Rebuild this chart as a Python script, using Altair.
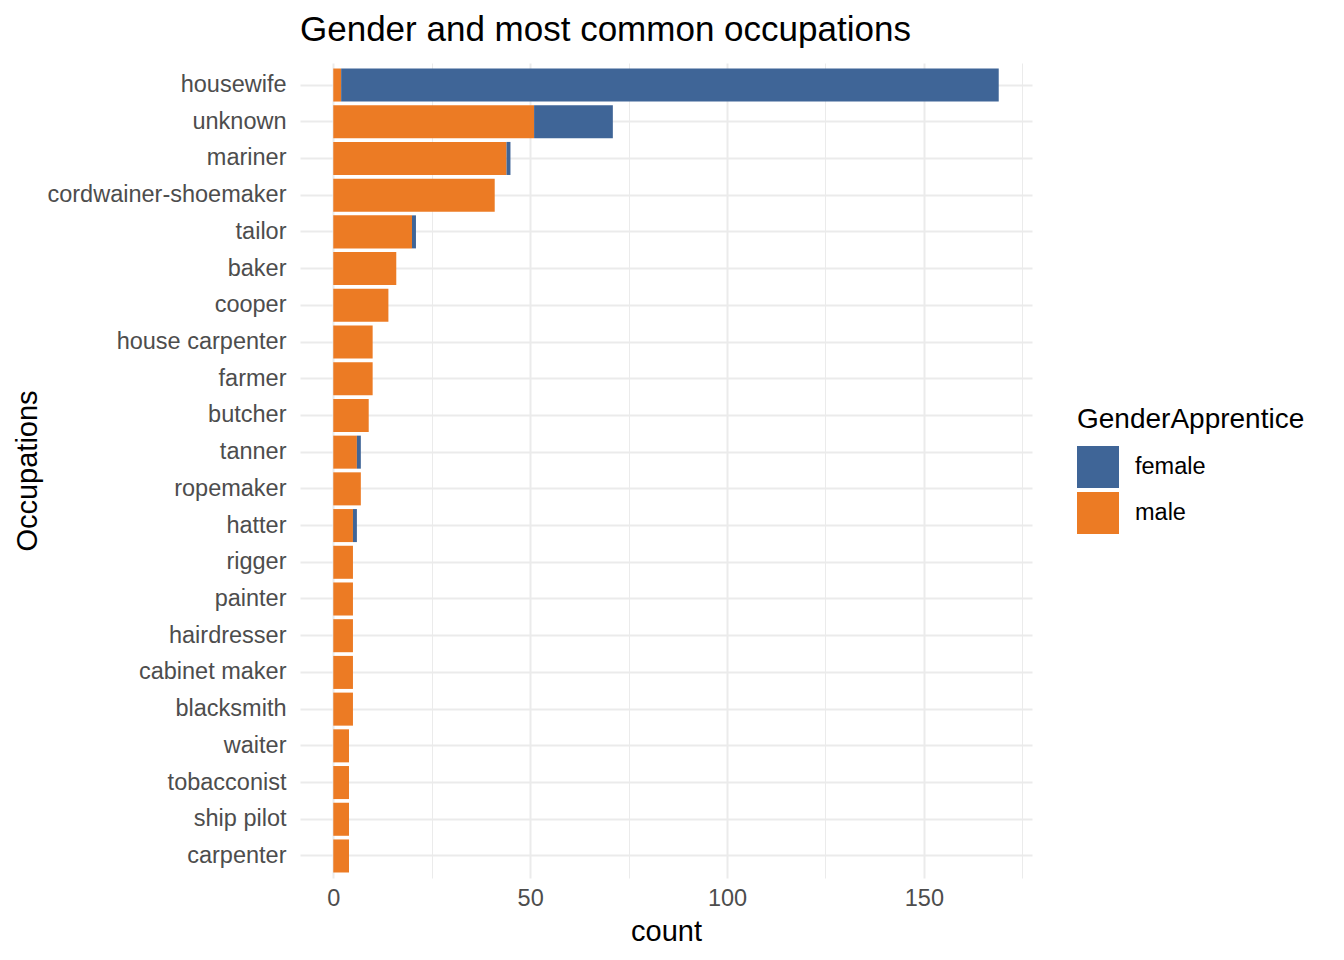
import altair as alt
import pandas as pd

occupations = ["housewife", "unknown", "mariner", "cordwainer-shoemaker", "tailor",
               "baker", "cooper", "house carpenter", "farmer", "butcher", "tanner",
               "ropemaker", "hatter", "rigger", "painter", "hairdresser", "cabinet maker",
               "blacksmith", "waiter", "tobacconist", "ship pilot", "carpenter"]
male_counts = [2, 51, 44, 41, 20, 16, 14, 10, 10, 9, 6, 7, 5, 5, 5, 5, 5, 5, 4, 4, 4, 4]
female_counts = [167, 20, 1, 0, 1, 0, 0, 0, 0, 0, 1, 0, 1, 0, 0, 0, 0, 0, 0, 0, 0, 0]
genders = ["female", "male"]
colors = ["#3F6597", "#EC7B24"]

rows = []
for occ, m, f in zip(occupations, male_counts, female_counts):
    if m > 0:
        rows.append({"Occupation": occ, "GenderApprentice": "male", "count": m, "ord": 0})
    if f > 0:
        rows.append({"Occupation": occ, "GenderApprentice": "female", "count": f, "ord": 1})
df = pd.DataFrame(rows)

FONT = "Liberation Sans"
LABEL = 23.5
AXTITLE = 29

chart = alt.Chart(df).mark_bar().encode(
    y=alt.Y("Occupation:N", sort=occupations, title="Occupations",
            scale=alt.Scale(paddingInner=0.1, paddingOuter=0.15),
            axis=alt.Axis(domain=False, ticks=False, labelPadding=14, labelLimit=500,
                          labelFontSize=LABEL, labelColor="#4D4D4D",
                          titleFontSize=AXTITLE, titleFontWeight="normal", titleColor="#000000",
                          titleX=-258,
                          grid=True, gridColor="#EBEBEB", gridWidth=2)),
    x=alt.X("sum(count):Q", title="count", stack="zero",
            scale=alt.Scale(domain=[-8.45, 177.45], nice=False, zero=False),
            axis=alt.Axis(values=[0, 25, 50, 75, 100, 125, 150, 175],
                          labelExpr="datum.value % 50 === 0 ? datum.label : ''",
                          domain=False, ticks=False, labelPadding=8,
                          labelFontSize=LABEL, labelColor="#4D4D4D",
                          titleFontSize=AXTITLE, titleFontWeight="normal", titleColor="#000000",
                          titlePadding=8,
                          grid=True, gridColor="#EBEBEB",
                          gridWidth={"condition": {"test": "datum.value % 50 === 0", "value": 2}, "value": 1})),
    color=alt.Color("GenderApprentice:N",
                    scale=alt.Scale(domain=genders, range=colors),
                    legend=alt.Legend(orient="none", legendX=777, legendY=343,
                                      title="GenderApprentice", titleFontSize=28,
                                      titleFontWeight="normal", titleColor="#000000",
                                      titlePadding=12, titleLimit=500,
                                      labelFontSize=LABEL, labelColor="#000000",
                                      labelLimit=300,
                                      labelOffset=16, symbolType="square",
                                      symbolSize=1764, symbolStrokeWidth=0,
                                      rowPadding=4)),
    order=alt.Order("ord:Q"),
).properties(
    width=732, height=815,
    title=alt.TitleParams("Gender and most common occupations", anchor="start",
                          frame="group",
                          fontSize=35, fontWeight="normal", color="#000000",
                          font=FONT, offset=15),
    background="white",
).configure(
    font=FONT,
).configure_view(
    stroke=None,
)

chart.save("out.html", embed_options={"renderer": "svg", "actions": False})
